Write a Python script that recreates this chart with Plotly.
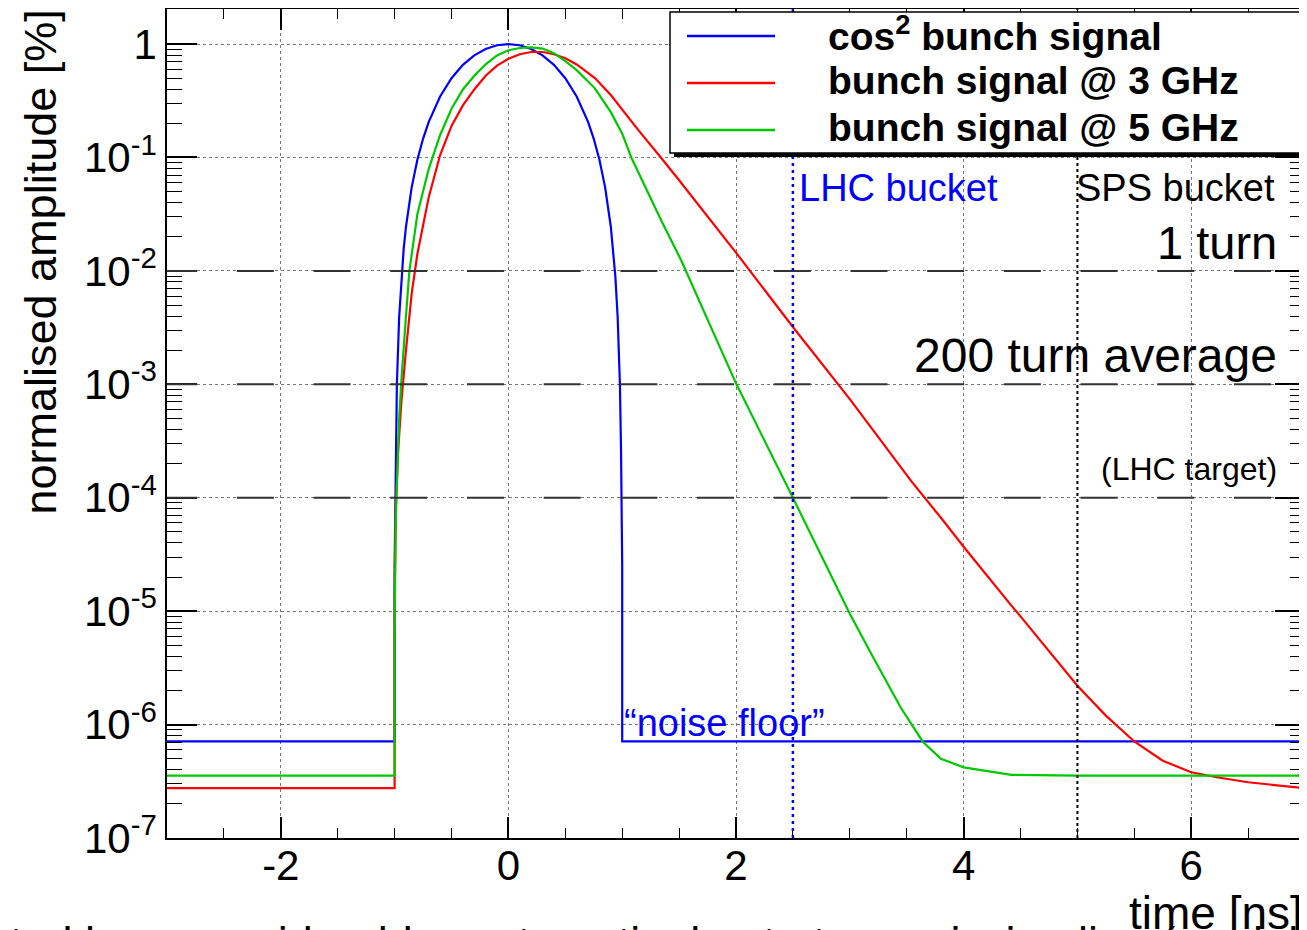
import plotly.graph_objects as go

# ---------------- data ----------------
blue_t = [-3.0, -1.0, -1.0, -0.99, -0.98, -0.96, -0.94, -0.92, -0.90, -0.85, -0.80, -0.75, -0.70,
          -0.60, -0.50, -0.40, -0.30, -0.20, -0.10, 0.0, 0.10, 0.20, 0.30, 0.40, 0.50, 0.60,
          0.70, 0.75, 0.80, 0.85, 0.90, 0.92, 0.94, 0.96, 0.98, 0.99, 1.0, 1.0, 7.0]
blue_v = [7.1e-7, 7.1e-7, 2.5e-5, 2.5e-4, 1.0e-3, 3.9e-3, 8.9e-3, 0.0157, 0.0245, 0.0545, 0.0955,
          0.146, 0.206, 0.345, 0.50, 0.655, 0.794, 0.905, 0.976, 1.0, 0.976, 0.905, 0.794, 0.655,
          0.50, 0.345, 0.206, 0.146, 0.0955, 0.0545, 0.0245, 0.0157, 8.9e-3, 3.9e-3, 1.0e-3,
          2.5e-4, 2.5e-5, 7.1e-7, 7.1e-7]

red_t = [-3.0, -1.0, -1.0, -0.99, -0.97, -0.94, -0.90, -0.85, -0.80, -0.70, -0.60, -0.50, -0.40,
         -0.30, -0.20, -0.10, 0.0, 0.10, 0.20, 0.30, 0.40, 0.50, 0.60, 0.76, 0.90, 1.0, 1.14,
         1.34, 1.50, 2.0, 2.5, 3.0, 3.32, 3.54, 3.82, 4.0, 4.42, 4.5, 5.0, 5.25, 5.5, 5.75,
         6.0, 6.25, 6.5, 7.0]
red_v = [2.75e-7, 2.75e-7, 1.26e-5, 7.9e-5, 2.5e-4, 7.1e-4, 2.0e-3, 6.3e-3, 0.0141, 0.0447,
         0.105, 0.19, 0.288, 0.398, 0.525, 0.646, 0.741, 0.813, 0.851, 0.851, 0.813, 0.75,
         0.661, 0.501, 0.355, 0.263, 0.175, 0.1, 0.063, 0.0145, 3.2e-3, 7.4e-4, 2.8e-4,
         1.4e-4, 6.3e-5, 3.7e-5, 1.12e-5, 9.0e-6, 2.2e-6, 1.2e-6, 7.1e-7, 4.8e-7, 3.8e-7,
         3.4e-7, 3.1e-7, 2.75e-7]

green_t = [-3.0, -1.0, -1.0, -0.99, -0.96, -0.94, -0.90, -0.87, -0.80, -0.70, -0.60, -0.50,
           -0.40, -0.30, -0.20, -0.10, 0.0, 0.10, 0.20, 0.30, 0.40, 0.50, 0.60, 0.76, 0.90,
           1.0, 1.08, 1.34, 1.52, 2.0, 2.5, 3.0, 3.2, 3.45, 3.64, 3.8, 4.0, 4.42, 5.0, 7.0]
green_v = [3.55e-7, 3.55e-7, 6.3e-6, 6.3e-5, 5.0e-4, 1.1e-3, 4.0e-3, 0.01, 0.0316, 0.0794,
           0.158, 0.269, 0.398, 0.525, 0.661, 0.794, 0.881, 0.923, 0.933, 0.912, 0.832,
           0.708, 0.589, 0.407, 0.251, 0.162, 0.1, 0.0282, 0.0123, 1.02e-3, 1.0e-4, 9.5e-6,
           4.0e-6, 1.4e-6, 7.1e-7, 5.0e-7, 4.2e-7, 3.6e-7, 3.55e-7, 3.55e-7]

series_names = ["<b>cos<sup>2</sup> bunch signal</b>",
                "<b>bunch signal @ 3 GHz</b>",
                "<b>bunch signal @ 5 GHz</b>"]
series_colors = ["#0000ff", "#ff0000", "#00c800"]

bucket_positions = [2.5, 5.0]          # LHC bucket, SPS bucket [ns]
bucket_labels = ["LHC bucket", "SPS bucket"]
threshold_levels = [1e-2, 1e-3, 1e-4]  # 1 turn, 200 turn average, LHC target
threshold_labels = ["1 turn", "200 turn average", "(LHC target)"]

x_tickvals = [-2, 0, 2, 4, 6]
x_ticktext = ["-2", "0", "2", "4", "6"]
y_tickvals = [1e-7, 1e-6, 1e-5, 1e-4, 1e-3, 1e-2, 1e-1, 1]
y_ticktext = ["10<sup>-7</sup>", "10<sup>-6</sup>", "10<sup>-5</sup>", "10<sup>-4</sup>",
              "10<sup>-3</sup>", "10<sup>-2</sup>", "10<sup>-1</sup>", "1"]

# ---------------- geometry helpers (page pixels -> paper) ----------------
OFF = 8                       # browser body margin
W, H = 1307 - OFF, 930 - OFF
PL, PR, PT, PB = 167, 1305, 9, 838   # plot frame in page pixels
ML, MR, MT, MB = PL - OFF, W - (PR - OFF), PT - OFF, H - (PB - OFF)
PW, PH = PR - PL, PB - PT


def px_x(p):
    return (p - PL) / PW


def px_y(p):
    return (PB - p) / PH


FONT = "Liberation Sans, Arial, Helvetica, sans-serif"

fig = go.Figure()
for t, v, name, c in zip([blue_t, red_t, green_t], [blue_v, red_v, green_v],
                         series_names, series_colors):
    fig.add_trace(go.Scatter(x=t, y=v, mode="lines", name=name,
                             line=dict(color=c, width=2.2)))

minor_y = [d * 10.0 ** e for e in range(-7, 1) for d in range(2, 10)]

fig.update_layout(
    width=W, height=H,
    margin=dict(l=ML, r=MR, t=MT, b=MB, autoexpand=False),
    paper_bgcolor="white", plot_bgcolor="white",
    font=dict(family=FONT, color="black"),
    showlegend=False,
    xaxis=dict(range=[-3, 7], tickmode="array", tickvals=x_tickvals, ticktext=x_ticktext,
               ticks="inside", ticklen=21, tickwidth=1.5, tickcolor="black",
               showline=True, linecolor="black", linewidth=1.5, mirror="ticks",
               showgrid=True, gridcolor="#777777", griddash="dot", gridwidth=1,
               zeroline=False, tickfont=dict(size=42, family=FONT),
               ticklabelstandoff=-10, automargin=False,
               minor=dict(tickmode="linear", tick0=0, dtick=0.5, ticks="inside", ticklen=10,
                          tickcolor="black", tickwidth=1.2, showgrid=False)),
    yaxis=dict(type="log", range=[-7, 0.309], tickmode="array", tickvals=y_tickvals,
               ticktext=y_ticktext,
               ticks="inside", ticklen=30, tickwidth=1.5, tickcolor="black",
               showline=True, linecolor="black", linewidth=1.5, mirror="ticks",
               showgrid=True, gridcolor="#777777", griddash="dot", gridwidth=1,
               zeroline=False, tickfont=dict(size=42, family=FONT),
               ticklabelstandoff=0, automargin=False,
               minor=dict(tickmode="array", tickvals=minor_y, ticks="inside", ticklen=15,
                          tickcolor="black", tickwidth=1.2, showgrid=False)),
)

# threshold long-dashed lines
for lvl in threshold_levels:
    fig.add_shape(type="line", xref="x", yref="y", x0=-3.06, x1=7, y0=lvl, y1=lvl,
                  line=dict(color="#333333", width=2, dash="37px,39.7px"), layer="above")

# bucket lines
fig.add_shape(type="line", xref="x", yref="paper", x0=bucket_positions[0], x1=bucket_positions[0],
              y0=0, y1=1, line=dict(color="#0000ff", width=2.5, dash="3px,4px"), layer="above")
fig.add_shape(type="line", xref="x", yref="paper", x0=bucket_positions[1], x1=bucket_positions[1],
              y0=0, y1=1, line=dict(color="#000000", width=2, dash="3px,3px"), layer="above")

# legend box (shadow + frame), swatches and entries
fig.add_shape(type="rect", xref="paper", yref="paper", x0=px_x(674), x1=px_x(1305),
              y0=px_y(157), y1=px_y(16), fillcolor="black", line=dict(width=0), layer="above")
fig.add_shape(type="rect", xref="paper", yref="paper", x0=px_x(670), x1=px_x(1300),
              y0=px_y(153), y1=px_y(12), fillcolor="white", line=dict(color="black", width=1.5),
              layer="above")
legend_rows = [36, 83, 130]
for row, name, c in zip(legend_rows, series_names, series_colors):
    fig.add_shape(type="line", xref="paper", yref="paper", x0=px_x(687), x1=px_x(775),
                  y0=px_y(row), y1=px_y(row), line=dict(color=c, width=2.5), layer="above")
    fig.add_annotation(x=px_x(826), y=px_y(row - 3), xref="paper", yref="paper", text=name,
                       showarrow=False, xanchor="left", yanchor="middle",
                       font=dict(size=39, color="black", family=FONT))

# text annotations
fig.add_annotation(x=bucket_positions[0] + 0.035, y=-1.27, xref="x", yref="y", text=bucket_labels[0],
                   showarrow=False, xanchor="left", yanchor="middle",
                   font=dict(size=38, color="#0000ff", family=FONT))
fig.add_annotation(x=6.75, y=-1.27, xref="x", yref="y", text=bucket_labels[1],
                   showarrow=False, xanchor="right", yanchor="middle",
                   font=dict(size=38, color="black", family=FONT))
fig.add_annotation(x=6.77, y=-1.75, xref="x", yref="y", text=threshold_labels[0],
                   showarrow=False, xanchor="right", yanchor="middle",
                   font=dict(size=47, color="black", family=FONT))
fig.add_annotation(x=6.77, y=-2.75, xref="x", yref="y", text=threshold_labels[1],
                   showarrow=False, xanchor="right", yanchor="middle",
                   font=dict(size=48, color="black", family=FONT))
fig.add_annotation(x=6.77, y=-3.75, xref="x", yref="y", text=threshold_labels[2],
                   showarrow=False, xanchor="right", yanchor="middle",
                   font=dict(size=32, color="black", family=FONT))
fig.add_annotation(x=1.0, y=-5.99, xref="x", yref="y", text="\u201cnoise floor\u201d",
                   showarrow=False, xanchor="left", yanchor="middle",
                   font=dict(size=38, color="#0000ff", family=FONT))

# axis titles
fig.add_annotation(x=px_x(40), y=px_y(8), xref="paper", yref="paper",
                   text="normalised amplitude [%]", textangle=-90, showarrow=False,
                   xanchor="center", yanchor="top", font=dict(size=45, family=FONT))
fig.add_annotation(x=1.0, y=px_y(913), xref="paper", yref="paper", text="time [ns]",
                   showarrow=False, xanchor="right", yanchor="middle",
                   font=dict(size=46, family=FONT))
# cut-off caption at the very bottom
fig.add_annotation(x=px_x(8), y=px_y(915), xref="paper", yref="paper",
                   text="ted by a considerable systematic due to transmission line (model)",
                   showarrow=False, xanchor="left", yanchor="top",
                   font=dict(size=45, family=FONT, color="black"))

fig.write_html("out.html")
